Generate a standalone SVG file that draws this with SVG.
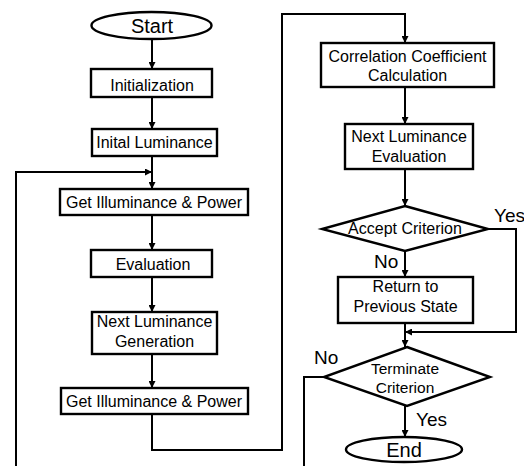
<svg xmlns="http://www.w3.org/2000/svg" width="524" height="466" viewBox="0 0 524 466">
<defs>
<marker id="ah" viewBox="0 0 10 10" refX="10" refY="5" markerWidth="7" markerHeight="7" markerUnits="userSpaceOnUse" orient="auto">
<path d="M0,0 L10,5 L0,10 z" fill="#000"/>
</marker>
<style>
.s{fill:#fff;stroke:#000;stroke-width:2.4}
.t{font-family:"Liberation Sans",Arial,sans-serif;font-size:16px;fill:#000;text-anchor:middle}
.tb{font-size:20px}
.lb{font-family:"Liberation Sans",Arial,sans-serif;font-size:19px;fill:#000}
.c{fill:none;stroke:#000;stroke-width:2}
</style>
</defs>
<rect width="524" height="466" fill="#fff"/>
<g id="connectors">
<path class="c" d="M152,39 V69" marker-end="url(#ah)"/>
<path class="c" d="M152,97 V129" marker-end="url(#ah)"/>
<path class="c" d="M152,156 V189" marker-end="url(#ah)"/>
<path class="c" d="M16,466 V172 H152" marker-end="url(#ah)"/>
<path class="c" d="M152,215 V250" marker-end="url(#ah)"/>
<path class="c" d="M152,277 V312" marker-end="url(#ah)"/>
<path class="c" d="M152,354 V388" marker-end="url(#ah)"/>
<path class="c" d="M152,414 V450 H282 V14 H405 V43" marker-end="url(#ah)"/>
<path class="c" d="M405,87 V124" marker-end="url(#ah)"/>
<path class="c" d="M405,169 V206" marker-end="url(#ah)"/>
<path class="c" d="M405,251 V277" marker-end="url(#ah)"/>
<path class="c" d="M405,323 V347" marker-end="url(#ah)"/>
<path class="c" d="M488,229 H516 V332 H405" marker-end="url(#ah)"/>
<path class="c" d="M405,406 V437" marker-end="url(#ah)"/>
<path class="c" d="M324,377 H304 V466"/>
</g>
<g id="start">
<ellipse class="s" cx="151.5" cy="25.5" rx="60" ry="13.5"/>
<text class="t tb" x="152" y="33">Start</text>
</g>
<g id="initialization">
<rect class="s" x="91" y="69" width="121" height="28"/>
<text class="t" x="152" y="91">Initialization</text>
</g>
<g id="inital-luminance">
<rect class="s" x="92" y="129" width="125" height="27"/>
<text class="t" x="154.5" y="148">Inital Luminance</text>
</g>
<g id="get-illum-1">
<rect class="s" x="60" y="189" width="188" height="26"/>
<text class="t" x="154" y="208">Get Illuminance &amp; Power</text>
</g>
<g id="evaluation">
<rect class="s" x="91" y="250" width="121" height="27"/>
<text class="t" x="153" y="270">Evaluation</text>
</g>
<g id="next-lum-gen">
<rect class="s" x="92" y="312" width="125" height="42"/>
<text class="t" x="154.5" y="327">Next Luminance</text>
<text class="t" x="154.5" y="347">Generation</text>
</g>
<g id="get-illum-2">
<rect class="s" x="61" y="388" width="187" height="26"/>
<text class="t" x="154" y="407">Get Illuminance &amp; Power</text>
</g>
<g id="correlation">
<rect class="s" x="321" y="43" width="173" height="44"/>
<text class="t" x="407.5" y="62">Correlation Coefficient</text>
<text class="t" x="407.5" y="81">Calculation</text>
</g>
<g id="next-lum-eval">
<rect class="s" x="345" y="124" width="128" height="45"/>
<text class="t" x="409" y="142">Next Luminance</text>
<text class="t" x="409" y="162">Evaluation</text>
</g>
<g id="accept">
<polygon class="s" points="405,206 488,229 405,251 322,229"/>
<text class="t" x="405" y="234">Accept Criterion</text>
<text class="lb" x="494" y="222">Yes</text>
<text class="lb" x="374" y="268">No</text>
</g>
<g id="return">
<rect class="s" x="338" y="277" width="135" height="46"/>
<text class="t" x="405.5" y="292">Return to</text>
<text class="t" x="405.5" y="312">Previous State</text>
</g>
<g id="terminate">
<polygon class="s" points="407,347 490,377 407,406 324,377"/>
<text class="t" x="405" y="374" style="font-size:15.5px">Terminate</text>
<text class="t" x="405" y="393" style="font-size:15.5px">Criterion</text>
<text class="lb" x="314" y="364">No</text>
<text class="lb" x="416" y="426">Yes</text>
</g>
<g id="end">
<ellipse class="s" cx="404" cy="449.5" rx="58" ry="12.5"/>
<text class="t tb" x="404" y="457">End</text>
</g>
</svg>
